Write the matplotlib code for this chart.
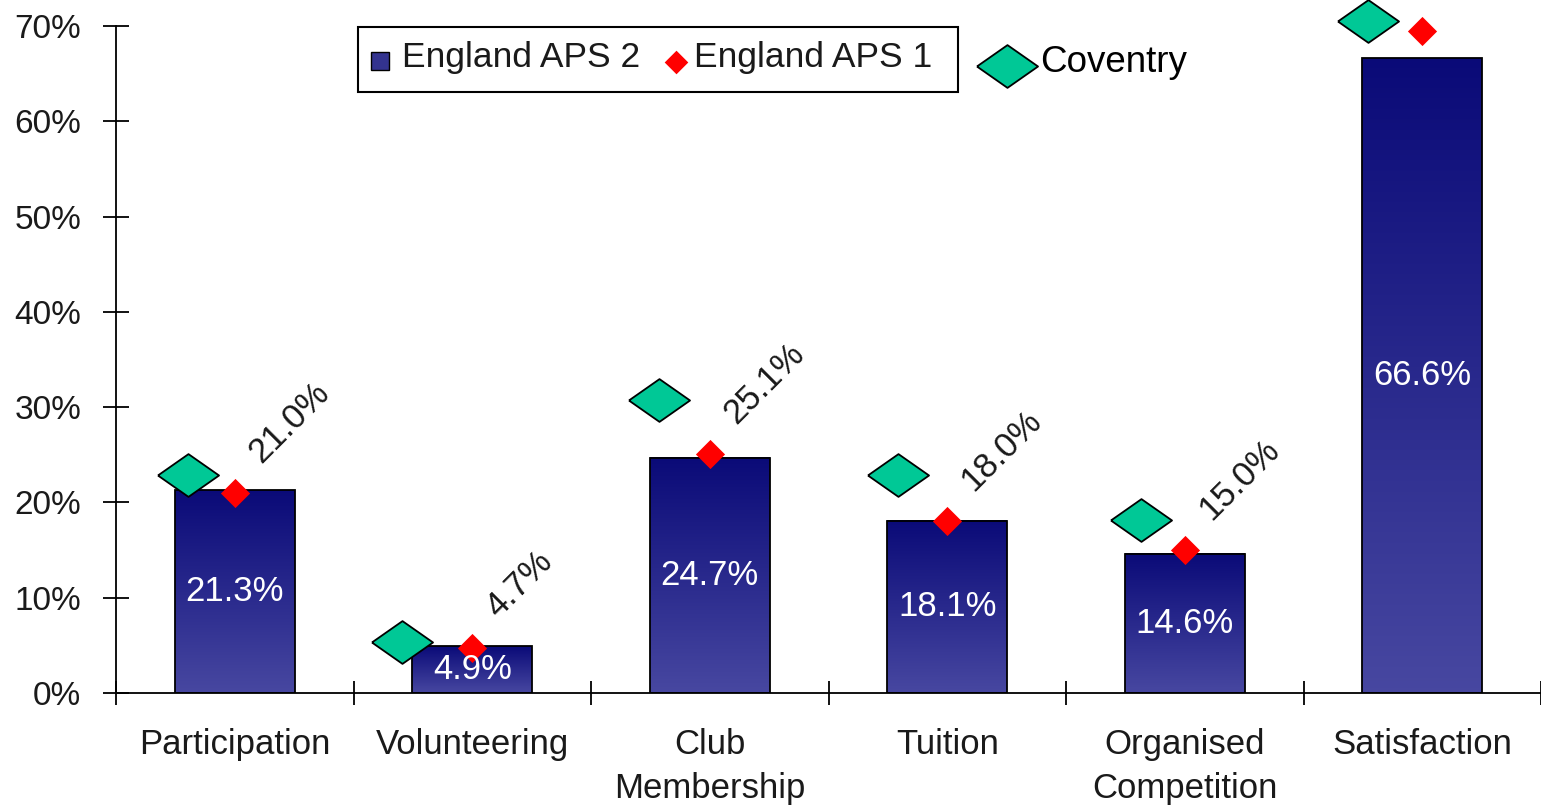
import numpy as np
import matplotlib
matplotlib.use("Agg")
import matplotlib.pyplot as plt
from matplotlib.colors import LinearSegmentedColormap
from matplotlib.patches import Rectangle
from matplotlib.lines import Line2D

plt.rcParams['font.family'] = ['Liberation Sans', 'DejaVu Sans']

# ---- data ----
categories = ['Participation', 'Volunteering', 'Club\nMembership', 'Tuition',
              'Organised\nCompetition', 'Satisfaction']
england_aps2 = [21.3, 4.9, 24.7, 18.1, 14.6, 66.6]
england_aps1 = [21.0, 4.7, 25.1, 18.0, 15.0, 69.5]
coventry = [22.9, 5.4, 30.8, 22.9, 18.2, 70.5]
yticks = [0, 10, 20, 30, 40, 50, 60, 70]
ytick_labels = [f'{v}%' for v in yticks]

W, H = 1541, 807
fig = plt.figure(figsize=(W / 100, H / 100), dpi=100)
ax = fig.add_axes([116 / W, 1 - 693 / H, 1 - 116 / W, (693 - 26) / H])

x = np.arange(len(categories))
bar_w = 0.505
top_col = (0.04, 0.04, 0.47)
bot_col = (0.28, 0.28, 0.63)
cmap = LinearSegmentedColormap.from_list('grad', [bot_col, top_col])
grad = np.linspace(0, 1, 256).reshape(-1, 1)

bars = ax.bar(x, england_aps2, width=bar_w, color='none', edgecolor='black',
              linewidth=1.3, zorder=3)
for b in bars:
    x0 = b.get_x()
    ax.imshow(grad, extent=[x0, x0 + b.get_width(), 0, b.get_height()],
              origin='lower', aspect='auto', cmap=cmap, zorder=2)

for xi, v in zip(x, england_aps2):
    ax.text(xi, v / 2, f'{v:.1f}%', color='white', ha='center', va='center',
            fontsize=25, zorder=7)

red_marker = [(-1, 0), (0, 1), (1, 0), (0, -1), (-1, 0)]
green_marker = [(-1, 0), (0, 0.7), (1, 0), (0, -0.7), (-1, 0)]

# horizontal placement of the Coventry diamonds (layout, in category units)
coventry_shift = np.array([-0.198, -0.295, -0.215, -0.206, -0.185, -0.227])

ax.plot(x, england_aps1, linestyle='none', marker=red_marker, markersize=21,
        color='#ff0000', markeredgewidth=0, zorder=6, clip_on=False)
ax.plot(x + coventry_shift, coventry, linestyle='none', marker=green_marker,
        markersize=44, markerfacecolor='#00c896', markeredgecolor='black',
        markeredgewidth=1.3, zorder=6, clip_on=False)

for xi, v in zip(x, england_aps1):
    ax.annotate(f'{v:.1f}%', (xi, v), xytext=(19, 21), textcoords='offset points',
                rotation=45, rotation_mode='anchor', ha='left', va='baseline',
                fontsize=25, color='#1a1a1a', annotation_clip=False)

ax.set_xlim(-0.5, 5.5)
ax.set_ylim(0, 70)
ax.set_xticks(np.arange(-0.5, 6, 1))
ax.set_xticklabels([])
ax.set_xticks(x, categories, minor=True)
ax.tick_params(axis='x', which='major', direction='inout', length=17, width=1.3)
ax.tick_params(axis='x', which='minor', length=0, pad=25, labelsize=25,
               labelcolor='#1a1a1a')
for t in ax.get_xticklabels(minor=True):
    t.set_linespacing(1.45)
ax.set_yticks(yticks, ytick_labels)
ax.tick_params(axis='y', direction='inout', length=19, width=1.3, pad=15.5,
               labelsize=24, labelcolor='#1a1a1a')
for s in ['top', 'right']:
    ax.spines[s].set_visible(False)
for s in ['left', 'bottom']:
    ax.spines[s].set_linewidth(1.3)

# ---- legend (figure pixel coordinates) ----
def fx(px):
    return px / W

def fy(py):
    return 1 - py / H

fig.add_artist(Rectangle((fx(358), fy(92)), fx(958) - fx(358), fy(27) - fy(92),
                         transform=fig.transFigure, facecolor='white',
                         edgecolor='black', linewidth=1.5, zorder=10))
fig.add_artist(Rectangle((fx(371), fy(70)), fx(389) - fx(371), fy(52) - fy(70),
                         transform=fig.transFigure, facecolor=(0.2, 0.2, 0.56),
                         edgecolor='black', linewidth=1, zorder=11))
fig.text(fx(402), fy(58), 'England APS 2', fontsize=25.5, color='#1a1a1a',
         ha='left', va='center', zorder=11)
fig.add_artist(Line2D([fx(676)], [fy(62)], transform=fig.transFigure,
                      marker=red_marker, markersize=17, color='#ff0000',
                      markeredgewidth=0, linestyle='none', zorder=11))
fig.text(fx(694), fy(58), 'England APS 1', fontsize=25.5, color='#1a1a1a',
         ha='left', va='center', zorder=11)
fig.add_artist(Line2D([fx(1007)], [fy(66)], transform=fig.transFigure,
                      marker=green_marker, markersize=44,
                      markerfacecolor='#00c896', markeredgecolor='black',
                      markeredgewidth=1.3, linestyle='none', zorder=11))
fig.text(fx(1040), fy(62), 'Coventry', fontsize=26.5, color='black',
         ha='left', va='center', zorder=11)

fig.savefig('out.png', dpi=100)
